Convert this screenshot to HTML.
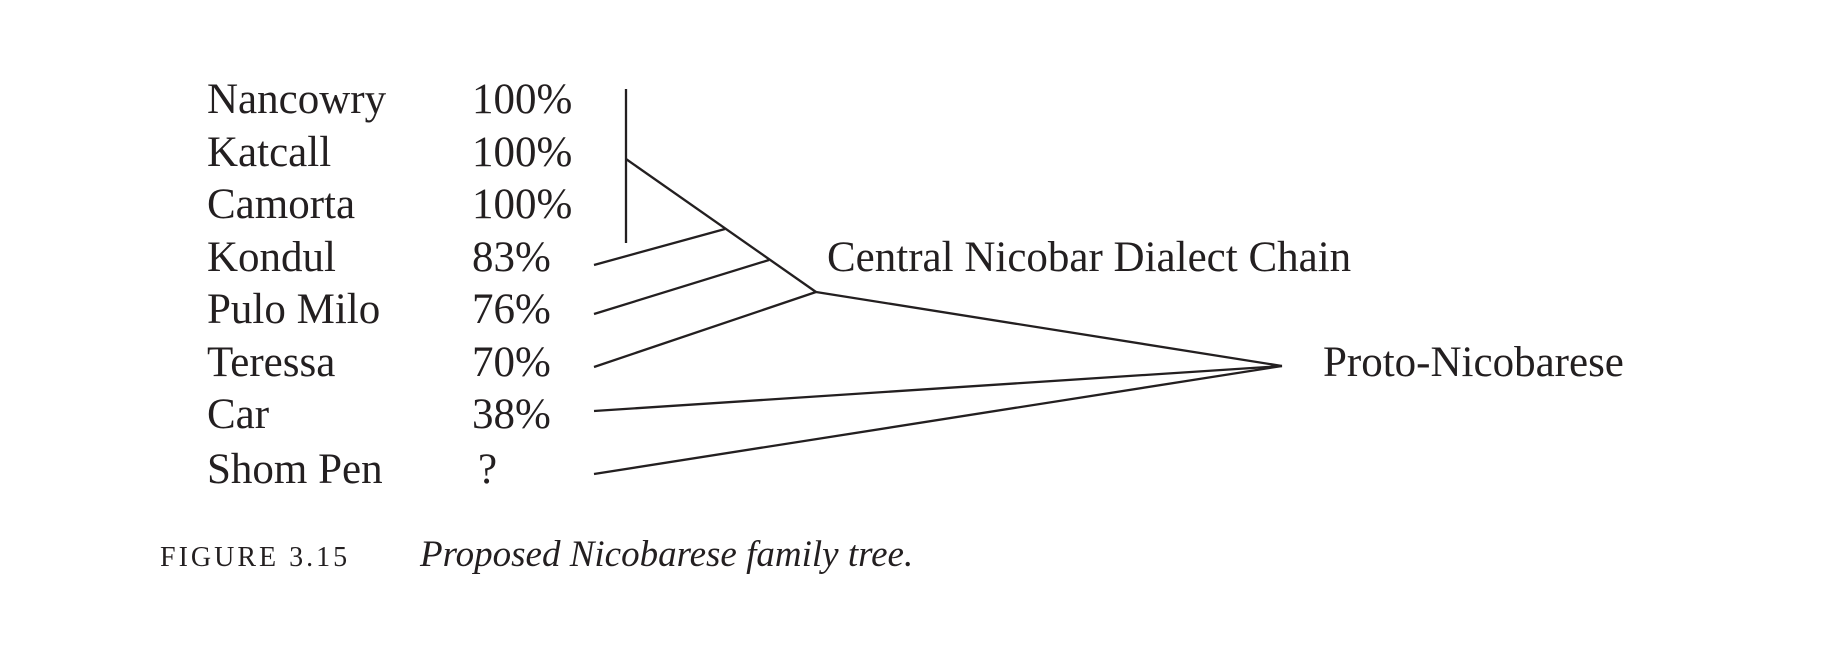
<!DOCTYPE html>
<html><head><meta charset="utf-8"><style>
html,body{margin:0;padding:0;background:#fff}
svg{display:block}
text{font-family:"Liberation Serif",serif;fill:#231f20}
</style></head><body>
<svg width="1828" height="658" viewBox="0 0 1828 658" xmlns="http://www.w3.org/2000/svg">
<g font-size="43">
<text x="207" y="113">Nancowry</text>
<text x="207" y="166">Katcall</text>
<text x="207" y="218">Camorta</text>
<text x="207" y="271">Kondul</text>
<text x="207" y="323">Pulo Milo</text>
<text x="207" y="376">Teressa</text>
<text x="207" y="428">Car</text>
<text x="207" y="483">Shom Pen</text>
<text x="472" y="113">100%</text>
<text x="472" y="166">100%</text>
<text x="472" y="218">100%</text>
<text x="472" y="271">83%</text>
<text x="472" y="323">76%</text>
<text x="472" y="376">70%</text>
<text x="472" y="428">38%</text>
<text x="478" y="483">?</text>
<text x="827" y="271">Central Nicobar Dialect Chain</text>
<text x="1323" y="376">Proto-Nicobarese</text>
</g>
<g stroke="#231f20" stroke-width="2.3" fill="none">
<line x1="626" y1="89" x2="626" y2="243"/>
<line x1="626" y1="159" x2="816" y2="292"/>
<line x1="594" y1="265" x2="725" y2="229"/>
<line x1="594" y1="314" x2="769" y2="260"/>
<line x1="594" y1="367" x2="816" y2="292"/>
<line x1="816" y1="292" x2="1282" y2="366"/>
<line x1="594" y1="411" x2="1282" y2="366"/>
<line x1="594" y1="474" x2="1282" y2="366"/>
</g>
<text x="160" y="566" font-size="28" letter-spacing="3">FIGURE 3.15</text>
<text x="420" y="566" font-size="37" font-style="italic">Proposed Nicobarese family tree.</text>
</svg>
</body></html>
